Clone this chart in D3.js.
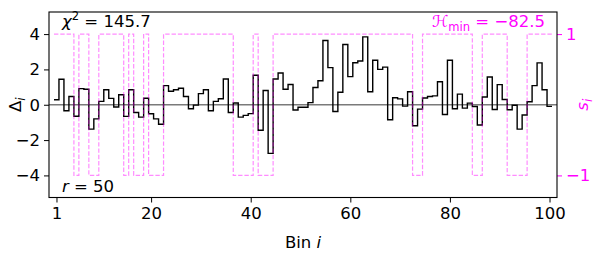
<!DOCTYPE html>
<html>
<head>
<meta charset="utf-8">
<script src="https://cdn.jsdelivr.net/npm/d3@7"></script>
<style>
  body { margin: 0; background: #fff; }
  svg text { font-family: "DejaVu Sans", sans-serif; }
</style>
</head>
<body>
<svg id="chart" width="600" height="254"></svg>
<script>
// Residuals per bin (left axis) and sign sequence s_i (right axis)
const delta = [
  0.28, 1.44, -0.34, 0.47, -0.65, 0.91, 0.88, -1.38, -0.80, 0.19,
  0.85, 0.36, -0.13, 0.57, -0.66, 0.85, -0.44, -0.70, 0.37, -0.51,
  -0.80, -1.10, 1.08, 0.76, 0.85, 0.93, 0.47, -0.23, -0.02, 0.63,
  0.85, -0.34, 0.19, 0.34, 1.46, -0.44, 0.10, -0.70, -0.60, -0.50,
  1.67, -1.44, 0.81, -2.75, 1.46, 1.80, 0.88, 1.15, -0.30, -0.14,
  -0.14, 0.12, 0.98, 1.36, 3.64, 2.10, -0.38, 0.71, 3.41, 1.59,
  2.38, 2.48, 3.84, 0.74, 2.52, 2.00, 2.13, -0.85, 0.40, 0.33,
  -0.08, 0.74, -1.19, -0.25, 0.38, 0.47, 0.50, 1.30, -0.55, 2.52,
  -0.23, 0.60, -0.19, 0.09, -0.10, -1.15, 0.44, 1.57, -0.27, 1.14,
  0.30, -0.28, -0.03, -1.38, -0.58, 0.17, 1.08, 2.37, 0.85, -0.09
];
const signs = [
  1, 1, 1, 1, -1, 1, 1, -1, -1, 1,
  1, 1, 1, 1, -1, 1, -1, -1, 1, -1,
  -1, -1, 1, 1, 1, 1, 1, 1, 1, 1,
  1, 1, 1, 1, 1, 1, -1, -1, -1, -1,
  1, -1, -1, -1, 1, 1, 1, 1, 1, 1,
  1, 1, 1, 1, 1, 1, 1, 1, 1, 1,
  1, 1, 1, 1, 1, 1, 1, 1, 1, 1,
  1, 1, -1, -1, 1, 1, 1, 1, 1, 1,
  1, 1, 1, 1, -1, -1, 1, 1, 1, 1,
  1, -1, -1, -1, -1, 1, 1, 1, 1, 1
];
const xTicks = [1, 20, 40, 60, 80, 100];
const yTicks = [-4, -2, 0, 2, 4];
const sTicks = [-1, 1];
const chi2 = '145.7';
const rVal = '50';
const hMin = '−82.5';

const svg = d3.select('#chart');
const L = 49, R = 557, T = 12, B = 197.5;
const magenta = '#ff00ff';
const fs = 16.5;

const x  = d3.scaleLinear().domain([-0.5, 101.5]).range([L, R]);
const y  = d3.scaleLinear().domain([-5.25, 5.25]).range([B, T]);
const ys = d3.scaleLinear().domain([-1.3125, 1.3125]).range([B, T]);

// step points on bin edges
const edges = d => d.map((v, i) => [i + 0.5, v]).concat([[d.length + 0.5, d[d.length - 1]]]);

const plot = svg.append('g');

// zero line
plot.append('line')
  .attr('x1', L).attr('x2', R).attr('y1', y(0)).attr('y2', y(0))
  .attr('stroke', '#7a7a7a').attr('stroke-width', 1.3);

plot.append('path')
  .datum(edges(delta))
  .attr('d', d3.line().x(d => x(d[0])).y(d => y(d[1])).curve(d3.curveStepAfter))
  .attr('fill', 'none').attr('stroke', '#000').attr('stroke-width', 1.4);

plot.append('path')
  .datum(edges(signs))
  .attr('d', d3.line().x(d => x(d[0])).y(d => ys(d[1])).curve(d3.curveStepAfter))
  .attr('fill', 'none').attr('stroke', magenta).attr('stroke-opacity', 0.45)
  .attr('stroke-width', 1.2).attr('stroke-dasharray', '4.4 1.9');

// axes
const xAxis = svg.append('g').attr('transform', `translate(0,${B})`)
  .call(d3.axisBottom(x).tickValues(xTicks).tickSize(5).tickPadding(5).tickFormat(d3.format('d')));
const yAxis = svg.append('g').attr('transform', `translate(${L},0)`)
  .call(d3.axisLeft(y).tickValues(yTicks).tickSize(5).tickPadding(4).tickFormat(d3.format('d')));
const sAxis = svg.append('g').attr('transform', `translate(${R},0)`)
  .call(d3.axisRight(ys).tickValues(sTicks).tickSize(5).tickPadding(4).tickFormat(d3.format('d')));

[xAxis, yAxis, sAxis].forEach(a => {
  a.select('.domain').remove();
  a.selectAll('text').attr('font-size', fs).attr('fill', '#000')
    .style('font-family', '"DejaVu Sans", sans-serif');
  a.selectAll('line').attr('stroke', '#000').attr('stroke-width', 1);
});
sAxis.selectAll('text').attr('fill', magenta);
sAxis.selectAll('line').attr('stroke', magenta);

svg.append('rect')
  .attr('x', L).attr('y', T).attr('width', R - L).attr('height', B - T)
  .attr('fill', 'none').attr('stroke', '#000').attr('stroke-width', 1.1);

// axis labels
svg.append('text')
  .attr('x', (L + R) / 2).attr('y', 248).attr('text-anchor', 'middle')
  .attr('font-size', fs)
  .call(t => {
    t.append('tspan').text('Bin ');
    t.append('tspan').attr('font-style', 'italic').text('i');
  });

svg.append('text')
  .attr('transform', `translate(21,${(T + B) / 2}) rotate(-90)`)
  .attr('text-anchor', 'middle').attr('font-size', fs)
  .call(t => {
    t.append('tspan').text('Δ');
    t.append('tspan').attr('font-style', 'italic').attr('font-size', fs * 0.7).attr('dy', 4).text('i');
  });

svg.append('text')
  .attr('transform', `translate(588,${(T + B) / 2}) rotate(-90)`)
  .attr('text-anchor', 'middle').attr('font-size', fs).attr('fill', magenta)
  .call(t => {
    t.append('tspan').attr('font-style', 'italic').text('s');
    t.append('tspan').attr('font-style', 'italic').attr('font-size', fs * 0.7).attr('dy', 4).text('i');
  });

// annotations
svg.append('text')
  .attr('x', 62).attr('y', 27).attr('font-size', fs)
  .call(t => {
    t.append('tspan').attr('font-style', 'italic').text('χ');
    t.append('tspan').attr('font-size', fs * 0.7).attr('dy', -7).text('2');
    t.append('tspan').attr('dy', 7).text(' = ' + chi2);
  });

svg.append('text')
  .attr('x', 62).attr('y', 192).attr('font-size', fs)
  .call(t => {
    t.append('tspan').attr('font-style', 'italic').text('r');
    t.append('tspan').text(' = ' + rVal);
  });

svg.append('text')
  .attr('x', 545).attr('y', 27).attr('font-size', fs).attr('fill', magenta)
  .attr('text-anchor', 'end')
  .call(t => {
    t.append('tspan').attr('font-style', 'italic').text('ℋ');
    t.append('tspan').attr('font-size', fs * 0.7).attr('dy', 4).text('min');
    t.append('tspan').attr('dy', -4).text(' = ' + hMin);
  });
</script>
</body>
</html>
